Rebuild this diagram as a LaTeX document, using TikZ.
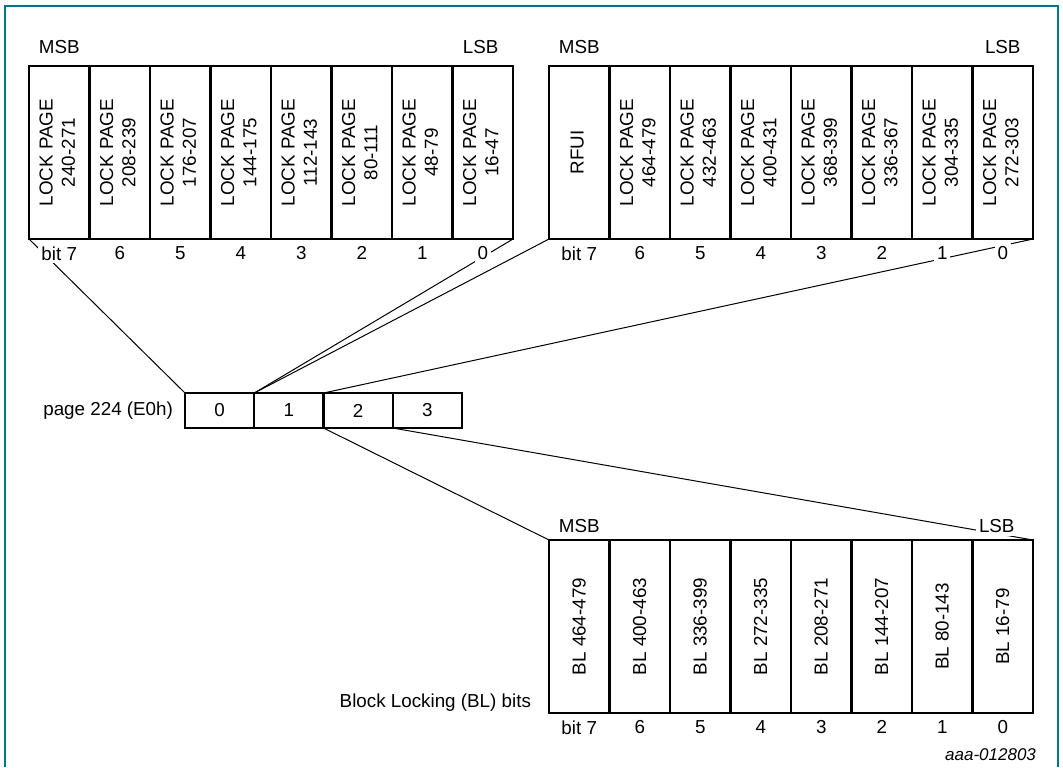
\documentclass[tikz,border=0pt]{standalone}
\usepackage{fontspec}
\setmainfont{Liberation Sans}
\usetikzlibrary{positioning}
\definecolor{framecol}{RGB}{0,118,138}

\begin{document}
\begin{tikzpicture}[x=0.5pt, y=-0.5pt,
  every node/.style = {font=\fontsize{9.4}{11.2}\selectfont},
  regcell/.style = {draw, line width=1.2pt, outer sep=0pt, inner sep=0pt,
    minimum width=30.25pt, minimum height=86.5pt},
  pgcell/.style = {draw, line width=1.2pt, outer sep=0pt, inner sep=0pt,
    minimum width=34.6pt, minimum height=17.5pt},
  bitlbl/.style = {fill=white, inner sep=1.5pt},
  wire/.style = {line width=0.5pt}
]
  \useasboundingbox (0,0) rectangle (1063,767);
  \draw[framecol, line width=0.75pt] (5,767) |- (1058,6) -- (1058,767);

  % lock byte 0
  \foreach \range [count=\k from 0] in {240-271,208-239,176-207,144-175,112-143,80-111,48-79,16-47}{
    \pgfmathtruncatemacro\bitno{7-\k}
    \node[regcell] (lo\bitno) at ({29+60.5*(\k+0.5)},152.5)
      {\rotatebox{90}{\begin{tabular}{@{}c@{}}LOCK PAGE\\\range\end{tabular}}};
  }

  % lock byte 1
  \foreach \txt [count=\k from 0] in {RFUI,LOCK PAGE\\464-479,LOCK PAGE\\432-463,LOCK PAGE\\400-431,
      LOCK PAGE\\368-399,LOCK PAGE\\336-367,LOCK PAGE\\304-335,LOCK PAGE\\272-303}{
    \pgfmathtruncatemacro\bitno{7-\k}
    \node[regcell] (hi\bitno) at ({549+60.5*(\k+0.5)},152.5)
      {\rotatebox{90}{\begin{tabular}{@{}c@{}}\txt\end{tabular}}};
  }

  % block locking bits
  \foreach \range [count=\k from 0] in {464-479,400-463,336-399,272-335,208-271,144-207,80-143,16-79}{
    \pgfmathtruncatemacro\bitno{7-\k}
    \node[regcell] (bl\bitno) at ({549+60.5*(\k+0.5)},626.5)
      {\rotatebox{90}{BL \range}};
  }

  % page 224
  \foreach \p in {0,...,3}
    \node[pgcell] (pg\p) at ({185+69.25*(\p+0.5)},410.5) {\p};
  \node[anchor=east] (pglbl) at (180,411) {page 224 (E0h)};

  \draw[wire] (lo7.south west) -- (pg0.north west);
  \draw[wire] (lo0.south east) -- (pg1.north west);
  \draw[wire] (hi7.south west) -- (pg1.north west);
  \draw[wire] (hi0.south east) -- (pg2.north west);
  \draw[wire] (pg2.south west) -- (bl7.north west);
  \draw[wire] (pg3.south west) -- (bl0.north east);

  % bit numbers
  \foreach \bitno in {0,...,7}{
    \node[bitlbl, below=2pt of lo\bitno.south] (lob\bitno) {\ifnum\bitno=7 bit 7\else\bitno\fi};
    \node[bitlbl, below=2pt of hi\bitno.south] (hib\bitno) {\ifnum\bitno=7 bit 7\else\bitno\fi};
    \node[bitlbl, below=2pt of bl\bitno.south] (blb\bitno) {\ifnum\bitno=7 bit 7\else\bitno\fi};
  }

  \node[bitlbl, above=4.5pt of lo7.north] (lomsb) {MSB};
  \node[bitlbl, above=4.5pt of lo0.north, xshift=-1pt] (lolsb) {LSB};
  \node[bitlbl, above=4.5pt of hi7.north] (himsb) {MSB};
  \node[bitlbl, above=4.5pt of hi0.north] (hilsb) {LSB};
  \node[bitlbl, above=2pt of bl7.north] (blmsb) {MSB};
  \node[bitlbl, above=2pt of bl0.north, xshift=-3pt] (bllsb) {LSB};

  \node[anchor=east] (bllbl) at (538,703) {Block Locking (BL) bits};
  \node[anchor=east, font=\fontsize{8.5}{10}\selectfont\itshape] (figid) at (1043,755) {aaa-012803};
\end{tikzpicture}
\end{document}
